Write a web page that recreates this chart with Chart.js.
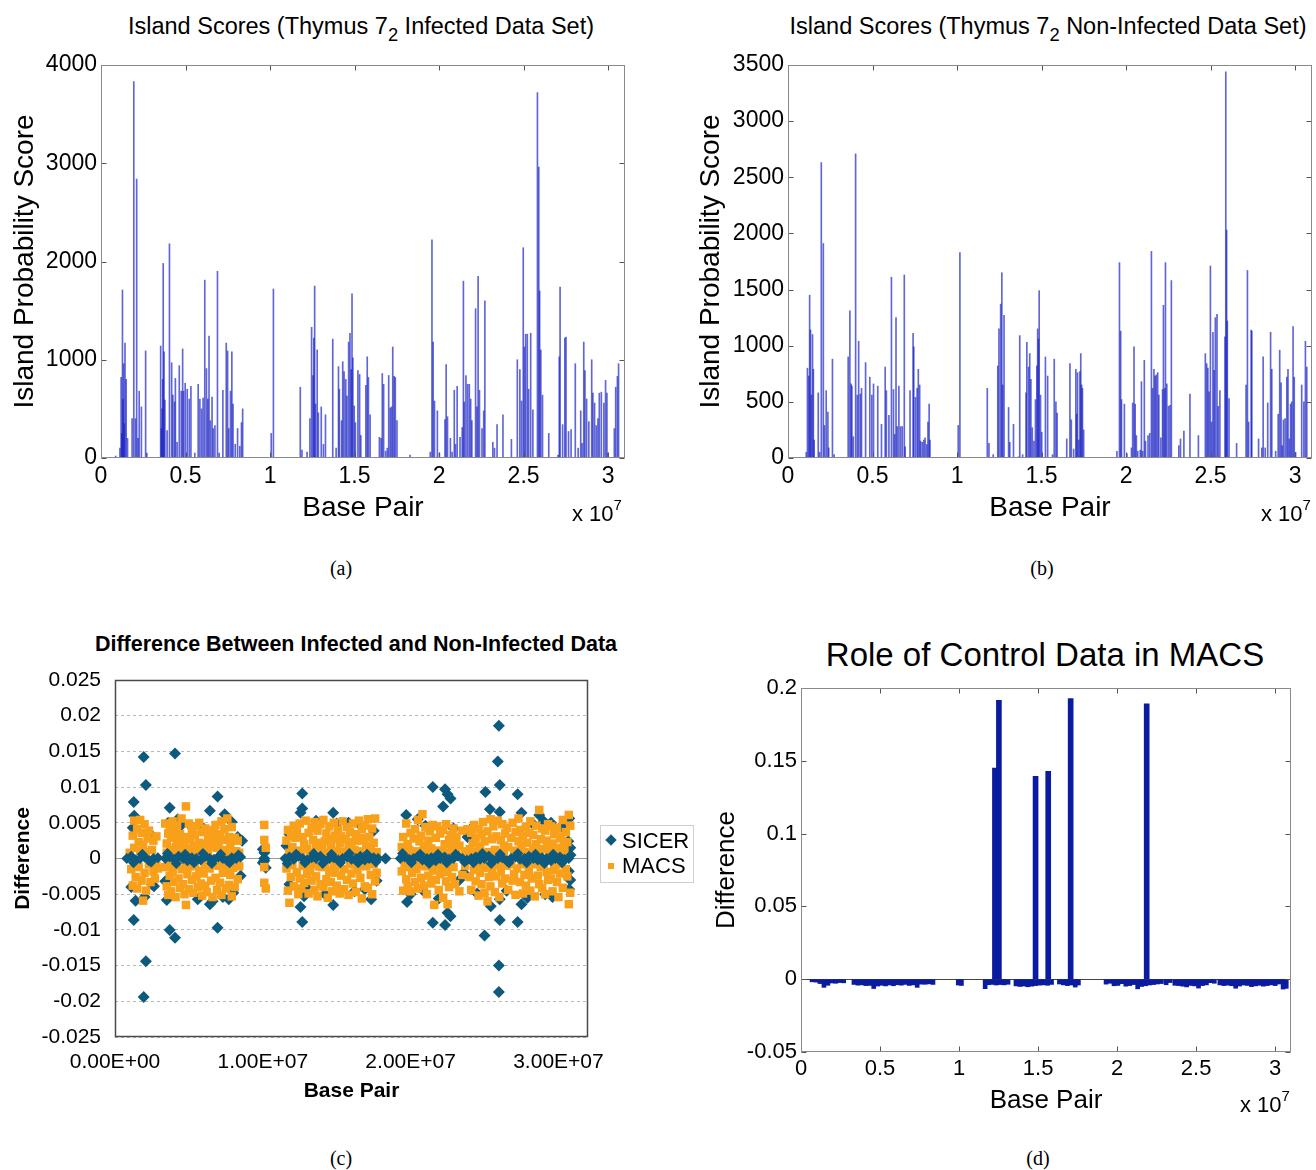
<!DOCTYPE html>
<html>
<head>
<meta charset="utf-8">
<script src="https://cdn.jsdelivr.net/npm/chart.js@4.4.0/dist/chart.umd.min.js"></script>
<style>
  body { margin: 0; background: #fff; width: 1316px; height: 1170px; position: relative; overflow: hidden;
         font-family: "Liberation Sans", Arial, Helvetica, sans-serif; color: #000; }
  .panel { position: absolute; }
  .txt { position: absolute; white-space: nowrap; transform: translateX(-50%); }
  .cap { position: absolute; white-space: nowrap; transform: translateX(-50%);
         font-family: "Liberation Serif", "Times New Roman", serif; font-size: 20px; line-height: 20px; }
  .sub { font-size: 0.78em; position: relative; top: 0.38em; }
  .exp { position: absolute; white-space: nowrap; font-size: 22px; line-height: 22px; }
  .exp span { font-size: 15px; position: relative; top: -11px; }
</style>
</head>
<body>

<!-- titres -->
<div class="txt" style="left:361px; top:15px; font-size:23.5px; line-height:23px;">Island Scores (Thymus 7<span class="sub">2</span> Infected Data Set)</div>
<div class="txt" style="left:1048px; top:15px; font-size:23.5px; line-height:23px;">Island Scores (Thymus 7<span class="sub">2</span> Non-Infected Data Set)</div>
<div class="txt" style="left:356px; top:634px; font-size:21.5px; line-height:21px; font-weight:bold;">Difference Between Infected and Non-Infected Data</div>
<div class="txt" style="left:1045px; top:638px; font-size:33px; line-height:33px;">Role of Control Data in MACS</div>

<div class="panel" style="left:0; top:40px;"><canvas id="chartA" width="640" height="500"></canvas></div>
<div class="panel" style="left:686px; top:40px;"><canvas id="chartB" width="630" height="500"></canvas></div>
<div class="panel" style="left:0; top:625px;"><canvas id="chartC" width="700" height="480"></canvas></div>
<div class="panel" style="left:705px; top:640px;"><canvas id="chartD" width="611" height="480"></canvas></div>

<!-- x 10^7 -->
<div class="exp" style="left:572px; top:503px;">x 10<span>7</span></div>
<div class="exp" style="left:1261px; top:503px;">x 10<span>7</span></div>
<div class="exp" style="left:1240px; top:1094px;">x 10<span>7</span></div>

<!-- legende (c) -->
<div style="position:absolute; left:600px; top:825px; width:92px; height:56px; border:1px solid #cfcfcf;">
  <div style="position:absolute; left:6px; top:10px; width:8px; height:8px; background:#0e5a7e; transform:rotate(45deg);"></div>
  <div style="position:absolute; left:21px; top:4px; font-size:22px; line-height:22px;">SICER</div>
  <div style="position:absolute; left:7px; top:37px; width:6px; height:6px; background:#f9a01b;"></div>
  <div style="position:absolute; left:21px; top:29px; font-size:22px; line-height:22px;">MACS</div>
</div>

<!-- legendas -->
<div class="cap" style="left:341px; top:558px;">(a)</div>
<div class="cap" style="left:1042px; top:558px;">(b)</div>
<div class="cap" style="left:341px; top:1148px;">(c)</div>
<div class="cap" style="left:1038px; top:1148px;">(d)</div>

<script>
Chart.defaults.font.family = '"Liberation Sans", Arial, Helvetica, sans-serif';
Chart.defaults.color = '#000';
Chart.defaults.animation = false;

const MB = 1e6;

// (a) ilhas, dados infectados: [posição em Mb, score]
const infectedIslands = [
  [0.87,20],[1.12,100],[1.19,820],[1.23,250],[1.27,1710],[1.30,600],[1.34,960],[1.38,350],[1.42,1170],[1.49,800],[1.57,200],
  [1.84,400],[1.94,3830],[2.04,400],[2.11,2840],[2.19,200],[2.26,680],[2.39,520],[2.64,1090],[2.71,50],
  [3.53,1140],[3.57,300],[3.61,500],[3.65,800],[3.68,1980],[3.73,1080],[3.78,590],[3.91,280],[4.05,2180],[4.18,970],
  [4.25,640],[4.35,570],[4.40,810],[4.50,160],[4.63,940],[4.75,680],[4.83,1110],[4.88,680],[4.98,760],[5.10,700],
  [5.22,600],[5.32,730],[5.55,50],[5.75,750],[5.85,600],[5.95,500],[6.04,610],[6.14,1810],[6.24,910],[6.32,600],
  [6.39,1240],[6.47,380],[6.57,620],[6.64,300],[6.74,330],[6.89,1900],[6.99,50],[7.21,690],[7.41,1170],[7.49,1090],
  [7.56,300],[7.66,680],[7.74,1080],[7.81,550],[7.94,140],[8.08,300],[8.21,120],[8.31,360],[8.38,500],
  [10.07,250],[10.20,1720],[11.79,720],[11.89,80],[12.19,60],[12.36,400],[12.46,1330],[12.54,840],[12.59,1220],
  [12.64,1750],[12.69,550],[12.79,1100],[12.86,460],[13.03,520],[13.16,140],[13.28,440],[13.71,1210],[13.91,100],
  [14.05,930],[14.10,700],[14.23,380],[14.30,980],[14.38,880],[14.48,800],[14.55,630],[14.65,1180],[14.73,1270],
  [14.80,900],[14.85,1670],[14.90,1020],[14.98,530],[15.05,360],[15.20,890],[15.30,850],[15.37,230],[15.67,740],
  [15.75,1030],[15.82,820],[15.92,440],[16.47,210],[16.57,200],[16.64,860],[16.72,750],[16.84,70],[16.94,100],
  [17.02,840],[17.11,510],[17.19,520],[17.26,1130],[17.34,830],[17.41,820],[17.51,380],[18.28,30],
  [19.48,60],[19.58,2220],[19.65,1180],[19.73,580],[19.90,480],[20.02,50],[20.35,390],[20.42,950],[20.50,420],
  [20.67,200],[20.77,60],[20.90,690],[20.97,140],[21.07,730],[21.24,210],[21.37,310],[21.44,1800],[21.49,570],
  [21.59,840],[21.69,750],[21.79,750],[21.87,600],[21.94,380],[22.16,1520],[22.24,520],[22.31,1850],[22.39,690],
  [22.54,300],[22.64,480],[22.71,1600],[23.18,160],[23.28,100],[23.43,340],[23.78,440],[24.28,190],
  [24.63,1000],[24.78,900],[24.88,580],[24.98,2140],[25.05,1130],[25.12,1260],[25.22,1260],[25.30,700],[25.42,1270],
  [25.55,490],[25.82,3720],[25.90,2960],[25.95,1700],[26.02,1100],[26.12,640],[26.49,250],[27.04,30],[27.11,1030],
  [27.16,1740],[27.31,340],[27.44,1220],[27.51,1230],[27.66,270],[27.81,290],[28.06,960],[28.23,100],[28.38,480],
  [28.46,150],[28.56,1180],[28.63,890],[28.73,600],[28.86,370],[29.03,1000],[29.10,660],[29.20,560],[29.30,330],
  [29.40,400],[29.48,660],[29.60,670],[29.75,560],[29.85,790],[29.93,660],[30.00,50],[30.37,300],[30.45,720],
  [30.55,830],[30.62,960]
];

// (b) ilhas, dados não infectados
const nonInfectedIslands = [
  [1.08,50],[1.15,800],[1.23,730],[1.28,1450],[1.33,1140],[1.38,560],[1.45,1100],[1.50,790],[1.55,160],[1.79,580],
  [1.87,50],[1.97,2630],[2.09,1910],[2.16,290],[2.26,600],[2.36,410],[2.41,90],[2.63,880],[2.73,30],
  [3.56,900],[3.66,1310],[3.73,660],[3.78,640],[3.86,190],[4.00,2710],[4.10,560],[4.18,1040],[4.28,570],[4.35,620],
  [4.59,850],[4.84,720],[4.96,560],[5.06,660],[5.31,640],[5.53,300],[5.75,810],[5.82,600],[5.97,380],[6.12,1610],
  [6.24,610],[6.31,210],[6.39,1250],[6.46,280],[6.56,640],[6.66,280],[6.76,280],[6.88,1630],[6.93,100],[7.22,600],
  [7.40,1110],[7.44,990],[7.54,540],[7.64,620],[7.71,790],[7.79,650],[7.84,150],[7.94,140],[8.03,160],[8.11,180],
  [8.21,120],[8.28,320],[8.35,480],[8.40,160],
  [10.07,290],[10.17,1830],[11.79,620],[11.89,130],[12.14,30],[12.41,820],[12.48,1150],[12.58,1370],[12.65,1650],
  [12.70,650],[12.78,1270],[13.05,450],[13.12,140],[13.34,300],[13.64,10],[13.71,1090],[13.88,30],[14.08,580],
  [14.13,1030],[14.23,810],[14.30,930],[14.37,700],[14.45,270],[14.55,150],[14.64,520],[14.72,820],[14.77,1150],
  [14.82,1060],[14.86,1490],[14.94,560],[15.01,230],[15.23,900],[15.36,730],[15.65,30],[15.75,880],[15.85,500],
  [15.92,400],[16.49,170],[16.68,840],[16.76,340],[16.90,80],[17.03,790],[17.08,390],[17.13,760],[17.20,160],
  [17.27,770],[17.32,930],[17.37,650],[17.42,620],[17.49,250],
  [19.46,60],[19.61,1740],[19.68,1130],[19.73,520],[19.90,480],[20.05,40],[20.32,90],[20.39,490],[20.47,990],
  [20.54,480],[20.61,200],[20.69,60],[20.84,70],[20.91,680],[20.98,60],[21.08,870],[21.15,150],[21.30,200],
  [21.40,220],[21.50,1840],[21.57,620],[21.65,790],[21.72,730],[21.79,740],[21.87,760],[21.94,560],[22.06,180],
  [22.16,610],[22.21,1360],[22.29,620],[22.33,1740],[22.41,660],[22.51,460],[22.60,470],[22.68,1580],[23.12,110],
  [23.22,170],[23.42,240],[23.78,570],[24.28,200],
  [24.69,930],[24.77,840],[24.84,800],[24.91,590],[24.99,1710],[25.06,320],[25.14,1120],[25.21,780],[25.28,1250],
  [25.38,1280],[25.45,460],[25.55,600],[25.85,1080],[25.90,3440],[25.95,2030],[25.99,1220],[26.09,530],[26.54,130],
  [27.10,650],[27.18,1670],[27.25,320],[27.40,1140],[27.44,1130],[27.84,170],[28.03,90],[28.11,900],[28.23,90],
  [28.38,490],[28.55,1120],[28.62,790],[28.85,60],[29.00,390],[29.09,960],[29.17,670],[29.24,110],[29.31,340],
  [29.41,350],[29.51,720],[29.58,790],[29.66,170],[29.73,480],[29.80,500],[29.88,1170],[29.95,720],[30.03,50],
  [30.39,650],[30.52,500],[30.61,1040],[30.69,810]
];

const scoreTicksA = [0, 1000, 2000, 3000, 4000];
const scoreTicksB = [0, 500, 1000, 1500, 2000, 2500, 3000, 3500];
const bpTicksMb = [0, 5, 10, 15, 20, 25, 30];
const bpTickLabels = ['0', '0.5', '1', '1.5', '2', '2.5', '3'];

// (c) diferença infectado - não infectado: [Mb, diferença x 1e-3]
const sicerSpread = [
  [1.27,7.9],[1.94,14.2],[2.09,10.3],[1.27,-8.6],[2.09,-14.4],[1.94,-19.4],[1.39,-5.9],[2.64,-3.9],[1.2,4.3],[1.3,6.0],
  [2.4,3.4],[2.5,-3.6],[1.1,-4.0],[2.0,-5.4],
  [3.70,7.1],[4.06,14.7],[3.70,-10.0],[4.06,-11.1],[4.24,5.5],[6.42,6.7],[6.94,8.7],[6.42,-6.4],[6.94,-9.7],[7.42,6.2],
  [7.70,-5.7],[3.5,-5.8],[3.6,5.0],[4.5,4.7],[5.2,4.4],[5.6,-5.7],[6.0,4.2],[6.6,-6.0],[7.3,-5.4],[7.9,5.1],[8.3,3.0],
  [8.5,-2.4],[8.6,2.5],[3.4,-3.2],[8.0,-4.8],
  [10.0,1.3],[10.1,0.8],[10.1,0.0],[10.0,-0.6],[10.2,-1.3],[10.1,-0.3],
  [11.8,3.4],[11.8,-3.6],[12.67,9.1],[12.67,7.0],[12.55,6.4],[12.67,-8.9],[12.55,-6.8],[12.79,-5.3],[14.76,6.4],
  [14.76,-6.5],[16.67,4.5],[17.33,-5.7],[12.9,-4.0],[13.6,5.3],[14.2,-5.0],[15.0,4.9],[15.8,5.0],[16.2,-4.6],
  [16.9,-4.3],[17.5,3.9],[17.7,-3.1],[11.6,1.8],[18.3,0.0],
  [19.7,6.1],[19.76,-6.1],[20.48,5.5],[21.5,10.0],[21.5,-9.0],[22.33,9.7],[22.5,9.0],[22.7,8.4],[22.2,7.3],[22.33,-9.3],
  [22.5,-7.6],[22.7,-8.1],[23.85,3.0],[20.0,-5.0],[21.0,4.6],[21.9,-5.6],[22.9,4.2],[23.3,-3.0],[23.6,-2.0],[20.8,-4.4],
  [25.06,9.3],[25.0,-10.8],[25.97,18.6],[25.9,13.6],[26.03,10.3],[26.03,6.5],[25.97,-15.0],[25.97,-18.7],[26.03,-8.6],
  [26.03,-5.7],[25.36,6.9],[25.42,-6.7],[27.24,9.0],[27.24,-8.9],[27.5,6.4],[27.5,-6.4],[28.7,6.1],[29.0,5.2],
  [29.1,-5.0],[30.73,5.6],[30.73,-4.3],[30.67,2.4],[24.5,-4.9],[24.2,4.4],[26.5,-4.5],[27.9,-5.5],[28.3,4.8],
  [29.6,-5.4],[30.2,4.5],[30.8,-3.0],[30.8,1.5],[30.7,-1.8],[29.5,5.0]
];
const sicerNearZero = [
  [0.8,0],[1.1,0.3],[1.4,-0.2],[1.7,0],[2.0,0.2],[2.3,-0.3],[2.6,0],[2.9,0.1],[1.25,-0.6],[1.85,0.6],[2.45,-0.5],
  [3.4,0],[3.7,0.2],[4.0,-0.1],[4.3,0.3],[4.6,0],[4.9,-0.3],[5.2,0.1],[5.5,0],[5.8,-0.2],[6.1,0.3],[6.4,0],[6.7,-0.1],
  [7.0,0.2],[7.3,0],[7.6,-0.3],[7.9,0.1],[8.2,0],[8.5,0.2],[3.55,0.7],[4.15,-0.7],[4.75,0.6],[5.35,-0.6],[5.95,0.7],
  [6.55,-0.7],[7.15,0.6],[7.75,-0.6],[8.35,0.5],
  [11.5,0],[11.8,0.2],[12.1,-0.1],[12.4,0.3],[12.7,0],[13.0,-0.2],[13.3,0.1],[13.6,0],[13.9,0.3],[14.2,-0.3],[14.5,0],
  [14.8,0.1],[15.1,-0.2],[15.4,0],[15.7,0.2],[16.0,-0.1],[16.3,0],[16.6,0.3],[16.9,-0.2],[17.2,0],[17.5,0.1],[17.8,0],
  [11.65,-0.7],[12.25,0.6],[12.85,-0.6],[13.45,0.7],[14.05,-0.7],[14.65,0.6],[15.25,-0.6],[15.85,0.7],[16.45,-0.6],
  [17.05,0.6],[17.65,-0.5],
  [19.3,0],[19.6,0.2],[19.9,-0.1],[20.2,0],[20.5,0.3],[20.8,-0.2],[21.1,0],[21.4,0.1],[21.7,-0.3],[22.0,0],[22.3,0.2],
  [22.6,-0.1],[22.9,0],[23.2,0.3],[23.5,0],[23.8,-0.2],[19.45,0.7],[20.05,-0.6],[20.65,0.6],[21.25,-0.7],[21.85,0.6],
  [22.45,-0.6],[23.05,0.6],[23.65,-0.5],
  [24.1,0],[24.4,0.2],[24.7,-0.1],[25.0,0],[25.3,0.3],[25.6,-0.2],[25.9,0],[26.2,0.1],[26.5,-0.3],[26.8,0],[27.1,0.2],
  [27.4,-0.1],[27.7,0],[28.0,0.3],[28.3,0],[28.6,-0.2],[28.9,0.1],[29.2,0],[29.5,-0.3],[29.8,0],[30.1,0.2],[30.4,-0.1],
  [30.7,0],[24.25,-0.6],[24.85,0.7],[25.45,-0.7],[26.05,0.6],[26.65,-0.6],[27.25,0.7],[27.85,-0.6],[28.45,0.6],
  [29.05,-0.7],[29.65,0.6],[30.25,-0.6],[30.85,0.5]
];
const macsPoints = [
  [1.0,0.8],[1.1,-1.5],[1.2,3.2],[1.2,-3.8],[1.3,5.3],[1.3,1.5],[1.4,-0.9],[1.4,-2.6],[1.5,4.1],[1.5,-4.2],[1.6,2.3],
  [1.6,-1.2],[1.7,5.4],[1.7,1.0],[1.8,-3.1],[1.8,3.6],[1.9,-5.9],[1.9,1.9],[2.0,-2.0],[2.0,4.8],[2.1,0.9],[2.1,-4.5],
  [2.2,2.8],[2.3,-0.8],[2.3,3.9],[2.4,-3.3],[2.5,1.2],[2.6,-1.8],[2.6,2.5],[2.7,-2.8],[2.8,-1.0],[2.8,3.1],[2.9,-1.4],
  [3.4,4.9],[3.4,-1.2],[3.5,2.1],[3.5,-3.9],[3.5,0.8],[3.6,-5.1],[3.6,3.5],[3.7,1.0],[3.7,-2.4],[3.7,4.4],[3.8,-0.9],
  [3.8,2.9],[3.8,-4.6],[3.9,5.2],[3.9,-1.9],[4.0,1.2],[4.0,-3.3],[4.0,3.8],[4.1,-5.4],[4.1,1.6],[4.2,2.6],[4.2,-0.9],
  [4.2,4.6],[4.3,-2.8],[4.3,0.9],[4.4,3.4],[4.4,-4.1],[4.5,5.6],[4.5,-1.5],[4.5,1.9],[4.6,-3.6],[4.6,0.8],[4.7,2.4],
  [4.7,-5.0],[4.8,7.3],[4.8,-6.5],[4.8,-1.0],[4.9,3.0],[4.9,-2.2],[5.0,4.9],[5.0,-4.3],[5.0,1.3],[5.1,-1.1],[5.1,2.7],
  [5.2,0.9],[5.2,-3.0],[5.2,3.9],[5.3,-4.8],[5.3,1.8],[5.4,3.3],[5.4,-0.9],[5.5,-2.5],[5.5,4.5],[5.6,1.1],[5.6,-4.0],
  [5.7,2.2],[5.7,-1.7],[5.7,5.0],[5.8,-3.5],[5.8,1.0],[5.9,3.7],[5.9,-5.2],[6.0,1.4],[6.0,-2.1],[6.1,4.2],[6.1,-0.9],
  [6.1,-3.8],[6.2,2.0],[6.2,-4.7],[6.3,0.9],[6.3,3.1],[6.4,-1.4],[6.4,4.0],[6.5,-3.1],[6.5,1.7],[6.6,2.8],[6.6,-5.4],
  [6.7,-0.9],[6.7,3.6],[6.8,4.7],[6.8,-2.7],[6.9,1.5],[6.9,-4.4],[7.0,-1.0],[7.0,2.3],[7.1,3.4],[7.1,-3.4],[7.2,0.9],
  [7.2,5.2],[7.2,-5.1],[7.3,-2.0],[7.3,1.2],[7.4,4.1],[7.4,-0.8],[7.5,2.6],[7.5,-4.2],[7.6,-1.6],[7.6,5.6],[7.7,0.9],
  [7.7,-3.7],[7.7,3.0],[7.8,-2.3],[7.8,1.9],[7.9,4.4],[7.9,-5.3],[8.0,1.0],[8.0,-1.3],[8.1,2.9],[8.1,-4.0],[8.2,-0.9],
  [8.2,1.0],[8.3,2.5],[8.3,-2.9],[8.4,-1.1],[8.4,0.8],
  [10.1,4.7],[10.1,2.6],[10.2,1.5],[10.1,-1.2],[10.1,-3.4],[10.2,-4.2],
  [11.6,2.5],[11.6,-1.4],[11.7,-4.5],[11.7,4.0],[11.8,0.8],[11.8,-6.2],[11.9,3.3],[11.9,-2.6],[12.0,-0.9],[12.0,1.6],
  [12.1,4.6],[12.1,-3.9],[12.2,1.0],[12.2,2.9],[12.3,-1.9],[12.3,3.8],[12.4,-5.0],[12.4,1.1],[12.5,4.9],[12.5,-2.8],
  [12.6,0.8],[12.6,-4.2],[12.7,3.0],[12.7,-1.0],[12.8,-3.4],[12.8,2.0],[12.9,5.3],[12.9,-0.9],[13.0,-2.2],[13.0,1.4],
  [13.1,3.6],[13.1,-4.9],[13.2,0.8],[13.2,-1.7],[13.3,4.3],[13.3,-3.1],[13.4,-0.8],[13.4,2.6],[13.5,-4.4],[13.5,5.1],
  [13.6,1.7],[13.6,-2.5],[13.7,3.9],[13.7,-5.3],[13.8,-1.1],[13.8,2.2],[13.9,-3.6],[13.9,4.8],[14.0,1.3],[14.0,-1.2],
  [14.1,5.4],[14.1,-4.0],[14.2,2.4],[14.2,-0.8],[14.3,-2.9],[14.3,3.5],[14.4,0.8],[14.4,-5.5],[14.5,4.5],[14.5,-1.8],
  [14.6,-3.3],[14.6,1.9],[14.7,2.8],[14.7,-4.6],[14.8,5.0],[14.8,-1.0],[14.9,-2.0],[14.9,3.2],[15.0,1.0],[15.0,-3.8],
  [15.1,4.0],[15.1,-0.9],[15.2,-4.9],[15.2,2.1],[15.3,3.1],[15.3,-2.4],[15.4,0.9],[15.4,5.2],[15.5,-1.5],[15.5,-4.3],
  [15.6,2.7],[15.6,0.9],[15.7,-3.0],[15.7,4.4],[15.8,1.6],[15.8,-5.1],[15.9,-0.8],[15.9,3.7],[16.0,2.3],[16.0,-2.1],
  [16.1,4.9],[16.1,-3.5],[16.2,-0.8],[16.2,1.2],[16.3,3.4],[16.3,-4.7],[16.4,0.8],[16.4,-1.6],[16.5,5.3],[16.5,2.5],
  [16.6,-2.7],[16.6,1.0],[16.7,4.1],[16.7,-5.6],[16.8,-0.9],[16.8,2.9],[16.9,-3.9],[16.9,4.6],[17.0,1.8],[17.0,-1.1],
  [17.1,5.5],[17.1,-4.1],[17.2,0.8],[17.2,3.0],[17.3,-2.3],[17.3,1.5],[17.4,4.2],[17.4,-5.0],[17.5,2.2],[17.5,-0.8],
  [17.6,-3.2],[17.6,5.6],[17.7,0.9],[17.7,-2.0],
  [19.4,1.6],[19.4,-1.8],[19.5,3.0],[19.5,-4.5],[19.6,-0.8],[19.6,0.8],[19.7,4.9],[19.7,-2.9],[19.8,2.0],[19.8,-3.9],
  [19.9,-1.2],[19.9,1.2],[20.0,3.6],[20.0,-4.6],[20.1,0.9],[20.1,-2.0],[20.2,2.8],[20.2,-0.8],[20.3,-3.3],[20.3,4.1],
  [20.4,1.0],[20.4,-1.5],[20.5,5.4],[20.5,-4.2],[20.6,-0.8],[20.6,2.4],[20.7,3.2],[20.7,-2.7],[20.8,6.2],[20.8,-0.9],
  [20.9,-3.8],[20.9,1.7],[21.0,4.4],[21.0,-1.1],[21.1,0.8],[21.1,-5.0],[21.2,2.5],[21.2,-2.4],[21.3,-0.8],[21.3,3.8],
  [21.4,1.4],[21.4,-3.5],[21.5,4.7],[21.5,-1.7],[21.6,-6.5],[21.6,0.9],[21.7,2.9],[21.7,-3.0],[21.8,-0.9],[21.8,4.5],
  [21.9,1.1],[21.9,-4.4],[22.0,3.5],[22.0,-2.2],[22.1,-1.4],[22.1,0.9],[22.2,4.0],[22.2,-5.5],[22.3,2.0],[22.3,-0.8],
  [22.4,-3.2],[22.4,4.8],[22.5,0.8],[22.5,-6.4],[22.5,-1.9],[22.6,2.6],[22.6,-4.0],[22.7,-0.8],[22.7,3.3],[22.8,1.5],
  [22.8,-2.6],[22.9,4.2],[22.9,-1.2],[23.0,-3.6],[23.0,2.2],[23.1,3.0],[23.1,0.8],[23.3,-4.6],[23.3,1.8],[23.5,3.9],
  [23.5,-2.3],[23.7,-1.0],[23.7,1.0],[23.85,4.1],
  [24.0,-2.6],[24.0,1.3],[24.1,3.6],[24.1,-4.4],[24.2,0.8],[24.2,2.1],[24.3,-1.6],[24.3,4.7],[24.4,2.9],[24.4,-3.2],
  [24.5,-0.8],[24.5,0.9],[24.6,4.1],[24.6,-5.2],[24.7,1.7],[24.7,-2.0],[24.8,-3.6],[24.8,3.4],[24.9,5.1],[24.9,-0.9],
  [25.0,2.4],[25.0,-4.8],[25.1,-1.3],[25.1,0.8],[25.2,3.8],[25.2,-6.0],[25.3,0.9],[25.3,-2.6],[25.4,5.5],[25.4,-3.9],
  [25.5,-1.8],[25.5,2.7],[25.6,4.5],[25.6,-0.8],[25.7,1.2],[25.7,-4.7],[25.8,-2.5],[25.8,3.1],[25.9,5.3],[25.9,0.8],
  [26.0,-0.9],[26.0,-5.4],[26.1,2.6],[26.1,-1.9],[26.2,4.8],[26.2,-3.5],[26.3,0.8],[26.3,1.8],[26.4,3.5],[26.4,-2.8],
  [26.5,-1.0],[26.5,4.3],[26.6,1.6],[26.6,-4.4],[26.8,2.9],[26.8,-0.8],[26.9,5.0],[26.9,-3.1],[27.0,-2.2],[27.0,1.1],
  [27.1,3.7],[27.1,-5.1],[27.2,0.8],[27.2,-1.4],[27.3,5.6],[27.3,2.4],[27.4,-3.3],[27.4,4.0],[27.5,1.9],[27.5,-0.8],
  [27.6,-4.9],[27.6,3.1],[27.7,0.9],[27.7,-2.3],[27.8,4.4],[27.8,-3.8],[27.9,2.2],[27.9,-0.8],[28.0,-1.7],[28.0,3.6],
  [28.1,5.2],[28.1,-4.5],[28.2,0.8],[28.2,-2.8],[28.3,3.3],[28.3,1.4],[28.4,-0.8],[28.4,-5.3],[28.5,4.6],[28.5,2.0],
  [28.6,-2.4],[28.6,1.0],[28.7,6.8],[28.7,-3.6],[28.8,2.7],[28.8,-1.2],[28.9,-4.1],[28.9,4.2],[29.0,1.3],[29.0,-0.8],
  [29.1,3.9],[29.1,-5.0],[29.2,-1.9],[29.2,2.5],[29.3,4.8],[29.3,-3.0],[29.4,0.9],[29.4,1.7],[29.5,-2.8],[29.5,4.5],
  [29.6,2.1],[29.6,-4.6],[29.7,3.4],[29.7,-1.6],[29.8,-0.9],[29.8,0.8],[29.9,4.3],[29.9,-3.3],[30.0,1.5],[30.0,-5.4],
  [30.1,-2.1],[30.1,2.8],[30.2,3.1],[30.2,-0.8],[30.3,5.4],[30.3,-4.1],[30.4,0.8],[30.4,1.9],[30.5,-1.5],[30.5,3.7],
  [30.6,2.3],[30.6,-2.5],[30.7,6.1],[30.7,-6.4],[30.8,-4.8],[30.8,4.6]
];
const diffTicks = [-25, -20, -15, -10, -5, 0, 5, 10, 15, 20, 25];
const diffTickLabels = ['-0.025', '-0.02', '-0.015', '-0.01', '-0.005', '0', '0.005', '0.01', '0.015', '0.02', '0.025'];
const bpTicksC = [0, 10, 20, 30];
const bpTickLabelsC = ['0.00E+00', '1.00E+07', '2.00E+07', '3.00E+07'];

// (d) papel dos dados de controle no MACS: [Mb, diferença x 1e-3]
const controlDiffLow = [
  [0.70,-1.8],[0.95,-2.0],[1.20,-3.0],[1.45,-5.6],[1.70,-4.2],[1.95,-2.6],[2.20,-2.8],[2.45,-2.3],[2.70,-2.5],
  [3.35,-3.6],[3.60,-4.1],[3.85,-3.9],[4.10,-4.4],[4.35,-4.3],[4.60,-6.4],[4.85,-4.7],[5.10,-4.2],[5.35,-4.6],
  [5.60,-4.0],[5.85,-4.5],[6.10,-3.8],[6.35,-4.1],[6.60,-3.6],[6.85,-4.3],[7.10,-3.9],[7.35,-5.6],[7.60,-3.4],
  [7.85,-3.5],[8.10,-3.2],[8.35,-3.6],
  [9.95,-4.0],[10.15,-4.3],
  [11.65,-6.5],[11.85,-3.8],[12.10,-3.6],[12.35,-4.0],[12.60,-3.7],[12.85,-3.9],[13.10,-3.5],[13.60,-4.6],[13.85,-5.0],
  [14.10,-4.7],[14.35,-5.2],[14.60,-4.8],[14.85,-4.4],[15.10,-4.1],[15.35,-3.9],[15.60,-4.2],[15.85,-3.6],[16.35,-3.3],
  [16.60,-3.9],[16.85,-4.4],[17.10,-4.0],[17.35,-5.4],[17.55,-4.0],
  [19.30,-3.4],[19.55,-2.8],[19.80,-4.5],[20.05,-4.3],[20.30,-3.1],[20.55,-4.8],[20.80,-4.4],[21.05,-3.7],[21.30,-6.6],
  [21.55,-5.0],[21.80,-4.5],[22.05,-4.0],[22.30,-3.7],[22.55,-3.3],[22.80,-3.0],
  [23.10,-3.8],[23.35,-2.3],[23.65,-4.2],[23.90,-4.4],[24.15,-4.8],[24.40,-5.3],[24.65,-4.3],[24.90,-4.6],[25.15,-6.1],
  [25.40,-4.4],[25.65,-3.9],[25.90,-2.4],[26.15,-2.8],[26.50,-3.9],[26.75,-4.4],[27.00,-4.1],[27.25,-4.5],[27.50,-6.2],
  [27.75,-4.7],[28.00,-4.0],[28.25,-4.3],[28.50,-5.1],[28.75,-4.6],[29.00,-4.2],[29.25,-4.8],[29.50,-4.4],[29.75,-3.9],
  [30.00,-4.4],[30.25,-3.3],[30.50,-6.8],[30.70,-6.3]
];
const controlDiffPeaks = [[12.27,145],[12.52,191.5],[14.84,139.4],[15.64,142.7],[17.06,192.7],[21.87,189.2]];
const roleTicks = [-50, 0, 50, 100, 150, 200];
const roleTickLabels = ['-0.05', '0', '0.05', '0.1', '0.15', '0.2'];

// moldura + marcas de escala para dentro (estilo MATLAB)
const framePlugin = {
  id: 'frame',
  afterDatasetsDraw(chart, args, o) {
    const { ctx, chartArea: a, scales } = chart;
    const l = Math.round(a.left) + 0.5, t = Math.round(a.top) + 0.5;
    const r = Math.round(a.right) - 0.5, b = Math.round(a.bottom) - 0.5;
    ctx.save();
    if (o.tick) {
      ctx.strokeStyle = o.tickColor;
      ctx.lineWidth = 1;
      ctx.beginPath();
      scales.x.ticks.forEach(tk => {
        const px = Math.round(scales.x.getPixelForValue(tk.value)) + 0.5;
        ctx.moveTo(px, b); ctx.lineTo(px, b - o.tick);
        ctx.moveTo(px, t); ctx.lineTo(px, t + o.tick);
      });
      scales.y.ticks.forEach(tk => {
        const py = Math.round(scales.y.getPixelForValue(tk.value)) + 0.5;
        ctx.moveTo(l, py); ctx.lineTo(l + o.tick, py);
        ctx.moveTo(r, py); ctx.lineTo(r - o.tick, py);
      });
      ctx.stroke();
    }
    ctx.strokeStyle = o.color;
    ctx.lineWidth = o.width;
    ctx.strokeRect(l, t, r - l, b - t);
    ctx.restore();
  }
};

function fixedTicks(values) {
  return scale => { scale.ticks = values.map(v => ({ value: v })); };
}

function islandChart(id, islands, yTicks, yMax, box) {
  return new Chart(document.getElementById(id), {
    type: 'bar',
    data: {
      datasets: [{
        data: islands.map(([mb, s]) => ({ x: mb * MB, y: s })),
        backgroundColor: 'rgba(20, 30, 195, 0.68)',
        borderWidth: 0,
        barThickness: 1
      }]
    },
    options: {
      responsive: false,
      devicePixelRatio: 1,
      layout: { padding: { left: 0, top: box.top, right: box.right, bottom: 0 } },
      plugins: {
        legend: { display: false },
        tooltip: { enabled: false },
        frame: { color: '#8a8a8a', width: 1, tick: 5, tickColor: '#555' }
      },
      scales: {
        x: {
          type: 'linear', min: 0, max: 31 * MB, offset: false,
          afterBuildTicks: fixedTicks(bpTicksMb.map(v => v * MB)),
          afterFit: s => { s.height = box.xh; },
          grid: { display: false, drawTicks: false, offset: false },
          border: { display: false },
          ticks: { font: { size: 23 }, padding: 5, maxRotation: 0, autoSkip: false,
                   callback: (v, i) => bpTickLabels[i] },
          title: { display: true, text: 'Base Pair', font: { size: 28 }, padding: { top: 0, bottom: 15 } }
        },
        y: {
          min: 0, max: yMax,
          afterBuildTicks: fixedTicks(yTicks),
          afterFit: s => { s.width = box.yw; },
          grid: { display: false, drawTicks: false },
          border: { display: false },
          ticks: { font: { size: 23 }, padding: 4, callback: v => String(v) },
          title: { display: true, text: 'Island Probability Score', font: { size: 28 }, padding: { top: box.yt, bottom: 0 } }
        }
      }
    },
    plugins: [framePlugin]
  });
}

islandChart('chartA', infectedIslands, scoreTicksA, 4000, { top: 25, right: 15, xh: 82, yw: 101, yt: 8 });
islandChart('chartB', nonInfectedIslands, scoreTicksB, 3500, { top: 25, right: 4, xh: 82, yw: 102, yt: 8 });

// (c)
const toPts = arr => arr.map(([mb, d]) => ({ x: mb * MB, y: d / 1000 }));
new Chart(document.getElementById('chartC'), {
  type: 'scatter',
  data: {
    datasets: [
      { label: 'SICER', data: toPts(sicerNearZero), pointStyle: 'rectRot', pointRadius: 5.5,
        backgroundColor: '#0e5a7e', borderWidth: 0 },
      { label: 'MACS', data: toPts(macsPoints), pointStyle: 'rect', pointRadius: 6,
        backgroundColor: '#f9a01b', borderWidth: 0 },
      { label: 'SICER', data: toPts(sicerSpread), pointStyle: 'rectRot', pointRadius: 6,
        backgroundColor: '#0e5a7e', borderWidth: 0 }
    ]
  },
  options: {
    responsive: false,
    devicePixelRatio: 1,
    layout: { padding: { left: 0, top: 55, right: 112, bottom: 0 } },
    plugins: {
      legend: { display: false },
      tooltip: { enabled: false },
      frame: { color: '#4a4a4a', width: 1.5, tick: 0 }
    },
    scales: {
      x: {
        type: 'linear', min: 0, max: 32 * MB,
        afterBuildTicks: fixedTicks(bpTicksC.map(v => v * MB)),
        afterFit: s => { s.height = 68; },
        grid: { display: false, drawTicks: false },
        border: { display: false },
        ticks: { font: { size: 21 }, padding: 13, maxRotation: 0, autoSkip: false,
                 callback: (v, i) => bpTickLabelsC[i] },
        title: { display: true, text: 'Base Pair', font: { size: 21, weight: 'bold' }, padding: { top: 0, bottom: 1 } }
      },
      y: {
        min: -0.025, max: 0.025,
        afterBuildTicks: fixedTicks(diffTicks.map(v => v / 1000)),
        afterFit: s => { s.width = 115; },
        grid: {
          drawTicks: false,
          color: c => (c.tick && c.tick.value === 0) ? '#9a9a9a' : '#b8b8b8'
        },
        border: { display: false, dash: c => (c.tick && c.tick.value === 0) ? [] : [3, 3] },
        ticks: { font: { size: 21 }, padding: 14, callback: (v, i) => diffTickLabels[i] },
        title: { display: true, text: 'Difference', font: { size: 21, weight: 'bold' }, padding: { top: 11, bottom: 0 } }
      }
    }
  },
  plugins: [framePlugin]
});

// (d)
const toBars = arr => arr.map(([mb, d]) => ({ x: mb * MB, y: d / 1000 }));
new Chart(document.getElementById('chartD'), {
  type: 'bar',
  data: {
    datasets: [
      { data: toBars(controlDiffPeaks), backgroundColor: '#0b1ba0', borderWidth: 0, barThickness: 5, grouped: false },
      { data: toBars(controlDiffLow), backgroundColor: '#0b1ba0', borderWidth: 0, barThickness: 4, grouped: false }
    ]
  },
  options: {
    responsive: false,
    devicePixelRatio: 1,
    layout: { padding: { left: 0, top: 48, right: 25, bottom: 0 } },
    plugins: {
      legend: { display: false },
      tooltip: { enabled: false },
      frame: { color: '#8a8a8a', width: 1, tick: 5, tickColor: '#555' }
    },
    scales: {
      x: {
        type: 'linear', min: 0, max: 31 * MB, offset: false,
        afterBuildTicks: fixedTicks(bpTicksMb.map(v => v * MB)),
        afterFit: s => { s.height = 68; },
        grid: { display: false, drawTicks: false, offset: false },
        border: { display: false },
        ticks: { font: { size: 22 }, padding: 4, maxRotation: 0, autoSkip: false,
                 callback: (v, i) => bpTickLabels[i] },
        title: { display: true, text: 'Base Pair', font: { size: 26 }, padding: { top: 0, bottom: 4 } }
      },
      y: {
        min: -0.05, max: 0.2,
        afterBuildTicks: fixedTicks(roleTicks.map(v => v / 1000)),
        afterFit: s => { s.width = 96; },
        grid: { drawTicks: false, color: c => (c.tick && c.tick.value === 0) ? '#444' : 'rgba(0,0,0,0)' },
        border: { display: false },
        ticks: { font: { size: 22 }, padding: 4, callback: (v, i) => roleTickLabels[i] },
        title: { display: true, text: 'Difference', font: { size: 26 }, padding: { top: 6, bottom: 0 } }
      }
    }
  },
  plugins: [framePlugin]
});
</script>
</body>
</html>
